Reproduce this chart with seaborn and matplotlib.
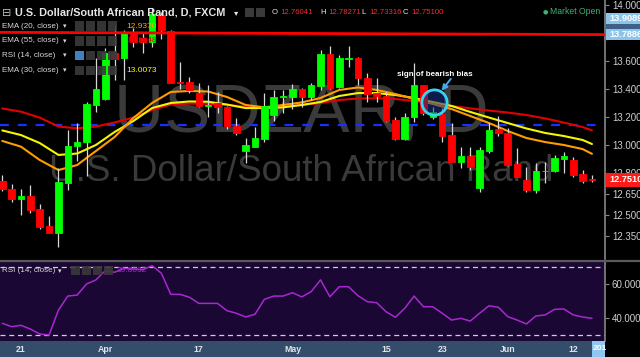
import matplotlib
matplotlib.use("Agg")
import matplotlib.pyplot as plt
import seaborn as sns
import numpy as np
import pandas as pd
from matplotlib.patches import Rectangle
from matplotlib.lines import Line2D

sns.set_theme(style="dark")
plt.rcParams["font.family"] = ["Liberation Sans", "DejaVu Sans"]

# ---------------- data ----------------
bar_index = list(range(-2, 62))
opens = [12.743, 12.684, 12.612, 12.638, 12.543, 12.424, 12.369, 12.731, 12.991, 13.019,
         13.286, 13.329, 13.660, 13.619, 13.795, 13.764, 13.738, 13.929, 13.814, 13.452,
         13.448, 13.374, 13.282, 13.300, 13.271, 13.136, 12.957, 12.988, 13.045, 13.214,
         13.343, 13.341, 13.398, 13.341, 13.424, 13.650, 13.416, 13.616, 13.619, 13.476,
         13.369, 13.350, 13.179, 13.041, 13.198, 13.429, 13.198, 13.219, 13.071, 12.881,
         12.921, 12.691, 12.959, 13.112, 13.088, 12.864, 12.750, 12.679, 12.812, 12.816,
         12.902, 12.893, 12.793, 12.76041]
highs = [12.786, 12.721, 12.686, 12.716, 12.579, 12.495, 12.836, 13.107, 13.159, 13.307,
         13.621, 13.693, 13.857, 13.821, 13.836, 13.800, 13.979, 13.950, 13.821, 13.595,
         13.486, 13.443, 13.429, 13.381, 13.279, 13.195, 13.050, 13.129, 13.369, 13.393,
         13.393, 13.436, 13.407, 13.443, 13.679, 13.707, 13.643, 13.707, 13.631, 13.514,
         13.479, 13.381, 13.202, 13.226, 13.584, 13.429, 13.274, 13.262, 13.157, 12.984,
         12.984, 12.984, 13.155, 13.207, 13.119, 12.976, 12.843, 12.871, 12.881, 12.929,
         12.952, 12.916, 12.821, 12.78271]
lows = [12.671, 12.595, 12.500, 12.514, 12.400, 12.368, 12.271, 12.679, 12.886, 12.779,
        13.236, 13.320, 13.464, 13.464, 13.700, 13.657, 13.700, 13.755, 13.443, 13.400,
        13.374, 13.271, 13.202, 13.231, 13.114, 13.071, 12.874, 12.983, 13.024, 13.174,
        13.231, 13.255, 13.269, 13.321, 13.393, 13.401, 13.405, 13.559, 13.429, 13.309,
        13.309, 13.162, 13.036, 13.036, 13.166, 13.214, 13.186, 13.024, 12.879, 12.834,
        12.821, 12.666, 12.941, 13.064, 12.850, 12.774, 12.666, 12.659, 12.731, 12.809,
        12.802, 12.774, 12.726, 12.73316]
closes = [12.686, 12.614, 12.636, 12.536, 12.416, 12.369, 12.738, 12.993, 13.024, 13.293,
          13.398, 13.659, 13.614, 13.798, 13.738, 13.736, 13.936, 13.821, 13.445, 13.441,
          13.393, 13.279, 13.289, 13.271, 13.136, 13.084, 13.000, 13.052, 13.279, 13.341,
          13.348, 13.398, 13.341, 13.429, 13.650, 13.405, 13.619, 13.621, 13.476, 13.364,
          13.350, 13.174, 13.041, 13.198, 13.429, 13.226, 13.238, 13.064, 12.881, 12.921,
          12.841, 12.964, 13.107, 13.084, 12.857, 12.775, 12.679, 12.814, 12.816, 12.905,
          12.921, 12.786, 12.745, 12.751]

ema_index = [-2, 0, 2, 4, 6, 8, 10, 12, 14, 16, 18, 20, 22, 24, 26, 28, 30, 32, 34, 36,
             38, 40, 42, 44, 46, 48, 50, 52, 54, 56, 58, 60, 61]
ema20 = [13.029, 12.988, 12.893, 12.821, 12.857, 12.957, 13.057, 13.193, 13.300, 13.379,
         13.386, 13.382, 13.343, 13.286, 13.269, 13.286, 13.304, 13.336, 13.393, 13.411,
         13.393, 13.364, 13.329, 13.293, 13.257, 13.207, 13.157, 13.100, 13.050, 13.021,
         13.000, 12.971, 12.937]
ema30 = [13.104, 13.071, 13.014, 12.929, 12.939, 13.000, 13.093, 13.171, 13.264, 13.300,
         13.311, 13.309, 13.289, 13.264, 13.264, 13.269, 13.286, 13.307, 13.350, 13.371,
         13.371, 13.357, 13.336, 13.307, 13.279, 13.236, 13.196, 13.157, 13.118, 13.086,
         13.064, 13.036, 13.007]
ema55 = [13.261, 13.238, 13.196, 13.132, 13.119, 13.132, 13.161, 13.196, 13.250, 13.289,
         13.296, 13.294, 13.286, 13.274, 13.269, 13.275, 13.286, 13.300, 13.321, 13.332,
         13.334, 13.329, 13.314, 13.296, 13.279, 13.262, 13.246, 13.232, 13.214, 13.190,
         13.160, 13.128, 13.105]

rsi_values = [36.9, 34.9, 35.7, 33.5, 30.6, 30.0, 44.7, 52.9, 53.5, 60.0,
              62.4, 67.8, 66.9, 69.2, 68.8, 68.4, 70.8, 66.3, 53.9, 53.9,
              52.2, 48.6, 48.6, 48.6, 44.3, 42.8, 40.6, 42.2, 51.0, 52.9,
              52.9, 54.9, 52.4, 55.5, 62.4, 52.5, 58.4, 58.4, 53.1, 49.6,
              49.0, 43.7, 40.4, 45.7, 52.9, 46.6, 46.6, 42.8, 38.8, 39.8,
              38.2, 42.8, 47.2, 46.3, 40.8, 38.8, 36.5, 41.2, 41.8, 45.1,
              45.3, 41.8, 40.6, 39.8]

date_labels = ["21", "Apr", "17", "May", "15", "23", "Jun", "12"]
date_label_bars = [0, 9, 19, 29, 39, 45, 52, 59]

price_ticks = [14.0, 13.6, 13.4, 13.2, 13.0, 12.8, 12.65, 12.5, 12.35]
rsi_ticks = [60, 40]
rsi_bands = [70, 30]
support_level = 13.145
trend_bars = [-3, 63]
trend_prices = [13.805, 13.7885]
legend_ema = [("EMA (20, close)", "12.9370", "#ffa500"),
              ("EMA (55, close)", "13.1048", "#e00000"),
              ("RSI (14, close)", "", ""),
              ("EMA (30, close)", "13.0073", "#ffff00")]
ohlc_labels = ["O", "H", "L", "C"]
ohlc_values = ["12.76041", "12.78271", "12.73316", "12.75100"]
rsi_last = "39.8032"
highlight_bar, highlight_price = 44.15, 13.3036

# ---------------- figure ----------------
W, H = 640, 357
fig = plt.figure(figsize=(6.4, 3.57), dpi=100, facecolor="black")


def F(x, y):
    return (x / W, 1 - y / H)


xlim = (-21 / 9.36, (605 - 21) / 9.36)
ax = fig.add_axes([0, 1 - 259 / H, 605 / W, 259 / H])
ax.set_facecolor("black")
ax.set_xlim(*xlim)
ax.set_ylim(13 - 114 / 140, 13 + 145 / 140)

# watermark
ax.text(301 / W, 1 - 132 / H, "USDZAR, D", transform=fig.transFigure, fontsize=50,
        color="#3a3a3a", ha="center", va="baseline", zorder=0.5)
ax.text(301 / W, 1 - 181 / H, "U.S. Dollar/South African Rand", transform=fig.transFigure,
        fontsize=26.5, color="#3a3a3a", ha="center", va="baseline", zorder=0.5)

# support dashed line
ax.axhline(support_level, color="#1530ff", lw=1.6, ls=(0, (4, 4)), zorder=1)

# EMAs
sns.lineplot(x=ema_index, y=ema55, ax=ax, color="#e00000", lw=1.5, zorder=2)
sns.lineplot(x=ema_index, y=ema30, ax=ax, color="#f5f500", lw=1.5, zorder=2)
sns.lineplot(x=ema_index, y=ema20, ax=ax, color="#ff9c00", lw=1.5, zorder=2)

# candles
df = pd.DataFrame({"bar": bar_index, "o": opens, "h": highs, "l": lows, "c": closes})
df["up"] = df["c"] >= df["o"]
df["bottom"] = df[["o", "c"]].min(axis=1)
df["height"] = (df["c"] - df["o"]).abs()
colors = np.where(df["up"], "#00ff00", "#ff0000")
ax.vlines(df["bar"], df["l"], df["h"], color="#d8d8d8", lw=0.9, zorder=3)
ax.bar(df["bar"], df["height"], bottom=df["bottom"], width=0.7, color=colors,
       edgecolor=colors, linewidth=0.6, zorder=4)

# red trend line
sns.lineplot(x=trend_bars, y=trend_prices, ax=ax, color="#ff0000", lw=2.0, zorder=5)

# highlight circle + arrow + text
ax.scatter([highlight_bar], [highlight_price], s=330, facecolor=(0.1, 0.2, 0.55, 0.55),
           edgecolor="#35d4f0", linewidth=2, zorder=6)
ax.annotate("", xy=(44.75, 13.372), xytext=(46.1, 13.488),
            arrowprops=dict(arrowstyle="-|>", color="#4aa8e8", lw=1.4,
                            mutation_scale=8), zorder=7)
ax.text(435 / W, 1 - 75 / H, "sign of bearish bias", transform=fig.transFigure,
        fontsize=5.8, fontweight="bold", color="white", ha="center", va="center", zorder=8)

# axes styling (main)
for s in ["left", "top", "bottom"]:
    ax.spines[s].set_visible(False)
ax.spines["right"].set_color("#808080")
ax.set_xticks([])
ax.yaxis.tick_right()
ax.set_yticks(price_ticks)
ax.set_yticklabels([f"{t:.5f}" for t in price_ticks])
ax.tick_params(axis="y", colors="#888888", labelcolor="#d0d0d0", labelsize=7,
               length=3, width=0.8, pad=2, right=True)
ax.set_xlabel("")
ax.set_ylabel("")
ax.grid(False)

# RSI panel
rax = fig.add_axes([0, 1 - 341 / H, 605 / W, 79 / H])
rax.set_facecolor("#1a0733")
rax.set_xlim(*xlim)
rax.set_ylim(40 - 23 / 1.7, 40 + 56 / 1.7)
for b in rsi_bands:
    rax.axhline(b, color="#cfcfcf", lw=0.9, ls=(0, (4, 3)))
sns.lineplot(x=bar_index, y=rsi_values, ax=rax, color="#a828d0", lw=1.1)
for s in ["left", "top", "bottom"]:
    rax.spines[s].set_visible(False)
rax.spines["right"].set_color("#808080")
rax.set_xticks([])
rax.yaxis.tick_right()
rax.set_yticks(rsi_ticks)
rax.set_yticklabels([f"{t:.4f}" for t in rsi_ticks])
rax.tick_params(axis="y", colors="#888888", labelcolor="#d0d0d0", labelsize=7,
                length=3, width=0.8, pad=2, right=True)
rax.set_xlabel("")
rax.set_ylabel("")
rax.grid(False)

# date strip
dax = fig.add_axes([0, 0, 605 / W, 16 / H])
dax.set_facecolor("#334d6b")
dax.set_xlim(*xlim)
dax.set_ylim(0, 1)
dax.set_xticks([])
dax.set_yticks([])
for s in dax.spines.values():
    s.set_visible(False)
for b, lab in zip(date_label_bars, date_labels):
    dax.text(b, 0.45, lab, ha="center", va="center", fontsize=6.3, fontweight="bold",
             color="#dfe6ee")
fig.add_artist(Rectangle(F(592, 357), 13 / W, 16 / H, transform=fig.transFigure,
                         facecolor="#8ec8f0", edgecolor="none", zorder=5))
fig.text(*F(593, 349), "201", fontsize=6.0, fontweight="bold", color="white",
         va="center", ha="left", zorder=6, clip_on=False)

# separator line between panels
fig.add_artist(Line2D([0, 1], [1 - 260.5 / H] * 2, color="#5a5a5a", lw=1.6,
                      transform=fig.transFigure))

# price label boxes on the right axis
def price_box(y0, y1, color, text, tcolor="white"):
    fig.add_artist(Rectangle(F(606, y1), 34 / W, (y1 - y0) / H, transform=fig.transFigure,
                             facecolor=color, edgecolor="none", zorder=5))
    fig.text(*F(609, (y0 + y1) / 2), text, fontsize=6.6, fontweight="bold", color=tcolor,
             va="center", ha="left", zorder=6)

fig.add_artist(Rectangle(F(606, 29), 34 / W, 6 / H, transform=fig.transFigure,
                         facecolor="#3e5f86", edgecolor="none", zorder=4))
price_box(13, 23.5, "#8cc4ec", "13.90897")
price_box(29, 39.5, "#8cc4ec", "13.78867")
price_box(173, 187, "#ff1a1a", "12.75100")

# top legend
fig.text(*F(2, 12.5), "\u229f", fontsize=8, color="#bdbdbd", va="center", ha="left",
         family=["DejaVu Sans"])
fig.text(*F(15, 12.5), "U.S. Dollar/South African Rand, D, FXCM", fontsize=7.8,
         fontweight="bold", color="#e6e6e6", va="center", ha="left")
fig.text(*F(234, 12.5), "\u25be", fontsize=6, color="#e6e6e6", va="center", ha="left",
         family=["DejaVu Sans"])
for xi in [245, 256]:
    fig.add_artist(Rectangle(F(xi, 17), 9 / W, 9 / H, transform=fig.transFigure,
                             facecolor="#3a3a3a", edgecolor="none", zorder=5))
ohlc_x = [272, 320, 361, 403]
for lab, val, xx in zip(ohlc_labels, ohlc_values, ohlc_x):
    fig.text(*F(xx, 12.5), lab, fontsize=5.6, color="#e6e6e6", va="center", ha="left")
    fig.text(*F(xx + 8, 12.5), val, fontsize=5.6, color="#ff2a2a", va="center", ha="left")
fig.text(*F(543, 12), "\u25cf", fontsize=4.5, color="#3cb371", va="center", ha="left",
         family=["DejaVu Sans"])
fig.text(*F(550, 12), "Market Open", fontsize=6.2, color="#3cb371", va="center", ha="left")

row_y = [26, 41, 55.5, 70]
for (name, val, col), yy in zip(legend_ema, row_y):
    fig.text(*F(2, yy), name, fontsize=5.8, color="#d8d8d8", va="center", ha="left")
    fig.text(*F(63, yy), "\u25be", fontsize=5, color="#d8d8d8", va="center", ha="left",
             family=["DejaVu Sans"])
    for k, xi in enumerate([75, 86, 97, 108]):
        fc = "#4a8fd6" if (name.startswith("RSI") and k == 0) else "#3a3a3a"
        fig.add_artist(Rectangle(F(xi, yy + 4.5), 9 / W, 9 / H, transform=fig.transFigure,
                                 facecolor=fc, edgecolor="none", alpha=0.9, zorder=5))
    if val:
        fig.text(*F(126, yy), val, fontsize=6, color=col, va="center", ha="left", zorder=6)

# RSI legend
fig.text(*F(2, 271), "RSI (14, close)", fontsize=5.8, color="#d8d8d8", va="center", ha="left")
fig.text(*F(58, 271), "\u25be", fontsize=5, color="#d8d8d8", va="center", ha="left",
         family=["DejaVu Sans"])
for xi in [71, 82, 93, 104]:
    fig.add_artist(Rectangle(F(xi, 275), 9 / W, 9 / H, transform=fig.transFigure,
                             facecolor="#3a3a3a", edgecolor="none", alpha=0.9, zorder=5))
fig.text(*F(117, 271), rsi_last, fontsize=6, color="#a828d0", va="center", ha="left")

fig.savefig("out.png", dpi=100, facecolor="black")
